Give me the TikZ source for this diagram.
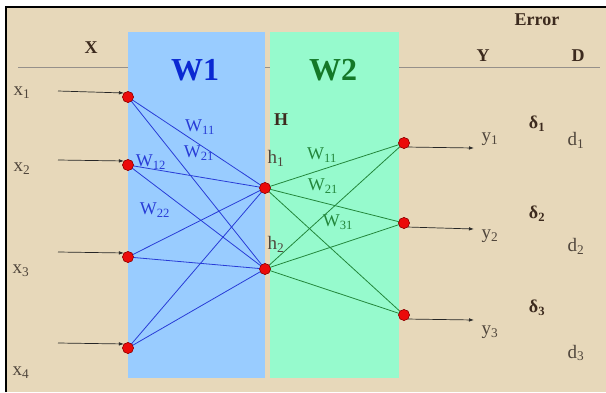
\documentclass[tikz,border=0pt]{standalone}
\usepackage{fontspec}
\setmainfont{Liberation Serif}
\usetikzlibrary{arrows.meta}
\definecolor{paper}{RGB}{231,216,186}
\definecolor{panelA}{RGB}{153,204,255}
\definecolor{panelB}{RGB}{150,250,205}
\definecolor{wireA}{RGB}{40,60,215}
\definecolor{wireB}{RGB}{35,135,60}
\definecolor{titleA}{RGB}{10,40,210}
\definecolor{titleB}{RGB}{20,120,40}
\definecolor{ink}{RGB}{80,70,60}
\definecolor{headink}{RGB}{60,42,30}
\definecolor{neuron}{RGB}{235,10,10}
\tikzset{
  unit/.style={circle, fill=neuron, draw=red!50!black, line width=0.4pt, inner sep=0pt, minimum size=11pt},
  feed/.style={-{Latex[length=5pt,width=3.5pt]}, line width=0.7pt, black!85},
  wa/.style={wireA, line width=0.8pt},
  wb/.style={wireB, line width=0.8pt},
  lbl/.style={text=ink, font=\fontsize{19}{20}\selectfont, inner sep=0pt},
  head/.style={text=headink, font=\fontsize{18}{19}\selectfont\bfseries, inner sep=0pt},
  delta/.style={text=headink, font=\fontsize{18}{19}\selectfont\bfseries, inner sep=0pt},
  wlabA/.style={text=wireA, font=\fontsize{18}{19}\selectfont, inner sep=0pt},
  wlabB/.style={text=wireB, font=\fontsize{18}{19}\selectfont, inner sep=0pt},
}
\newcommand\lo[1]{\textsubscript{#1}}
\begin{document}
\begin{tikzpicture}[x=1pt,y=-1pt]
\useasboundingbox (0,0) rectangle (606,392);
\fill[white] (0,0) rectangle (606,392);
\fill[paper] (6,7) rectangle (606,392);
\draw[line width=2pt] (6,392) -- (6,7) -- (606,7);
% header rule
\draw[ink!60, line width=0.7pt] (18,67) -- (600,67);
% weight panels
\fill[panelA] (128,32) rectangle (265,378);
\fill[panelB] (270,32) rectangle (399,378);
\node[text=titleA, font=\fontsize{32}{34}\selectfont\bfseries] (tw1) at (195,70) {W1};
\node[text=titleB, font=\fontsize{32}{34}\selectfont\bfseries] (tw2) at (333,70) {W2};
% column headings
\node[head] (hx) at (91,48) {X};
\node[head] (hy) at (483,56) {Y};
\node[head] (hd) at (578,56) {D};
\node[head] (he) at (537,20) {Error};
\node[head] (hh) at (281,120) {H};
% units
\node[unit] (x1) at (128,97) {};
\node[unit] (x2) at (128,165) {};
\node[unit] (x3) at (128,257) {};
\node[unit] (x4) at (128,348) {};
\node[unit] (h1) at (265,188) {};
\node[unit] (h2) at (265,269) {};
\node[unit] (y1) at (404,143) {};
\node[unit] (y2) at (404,223) {};
\node[unit] (y3) at (404,315) {};
% input to hidden
\foreach \i in {1,...,4}{
  \draw[wa] (x\i.center) -- (h1.center);
  \draw[wa] (x\i.center) -- (h2.center);
}
% hidden to output
\foreach \j in {1,2,3}{
  \draw[wb] (h1.center) -- (y\j.center);
  \draw[wb] (h2.center) -- (y\j.center);
}
% redraw the units over the wires
\foreach \n in {x1,x2,x3,x4,h1,h2,y1,y2,y3}{\node[unit] at (\n) {};}
% input arrows
\coordinate (a1) at (58,91);
\coordinate (a2) at (58,160);
\coordinate (a3) at (58,252);
\coordinate (a4) at (58,343);
\draw[feed] (a1) -- (x1.north west);
\draw[feed] (a2) -- (x2.north west);
\draw[feed] (a3) -- (x3.north west);
\draw[feed] (a4) -- (x4.north west);
% output arrows
\coordinate (b1) at (474,148);
\coordinate (b2) at (474,229);
\coordinate (b3) at (474,320);
\draw[feed] (y1.south east) -- (b1);
\draw[feed] (y2.south east) -- (b2);
\draw[feed] (y3.south east) -- (b3);
% input labels
\node[lbl] (lx1) at (22,93) {x\lo{1}};
\node[lbl] (lx2) at (22,169) {x\lo{2}};
\node[lbl] (lx3) at (21,271) {x\lo{3}};
\node[lbl] (lx4) at (21,373) {x\lo{4}};
% hidden labels
\node[lbl] (lh1) at (276,158) {h\lo{1}};
\node[lbl] (lh2) at (276,244) {h\lo{2}};
% output labels
\node[lbl] (ly1) at (490,139) {y\lo{1}};
\node[lbl] (ly2) at (490,236) {y\lo{2}};
\node[lbl] (ly3) at (490,332) {y\lo{3}};
\node[lbl] (ld1) at (576,140) {d\lo{1}};
\node[lbl] (ld2) at (576,246) {d\lo{2}};
\node[lbl] (ld3) at (576,353) {d\lo{3}};
\node[delta] (e1) at (537,124) {δ\lo{1}};
\node[delta] (e2) at (537,214) {δ\lo{2}};
\node[delta] (e3) at (537,308) {δ\lo{3}};
% weight labels
\node[wlabA] (w11a) at (200,127) {W\lo{11}};
\node[wlabA] (w21a) at (199,153) {W\lo{21}};
\node[wlabA] (w12a) at (151,162) {W\lo{12}};
\node[wlabA] (w22a) at (155,210) {W\lo{22}};
\node[wlabB] (w11b) at (322,155) {W\lo{11}};
\node[wlabB] (w21b) at (323,186) {W\lo{21}};
\node[wlabB] (w31b) at (338,222) {W\lo{31}};
\end{tikzpicture}
\end{document}
